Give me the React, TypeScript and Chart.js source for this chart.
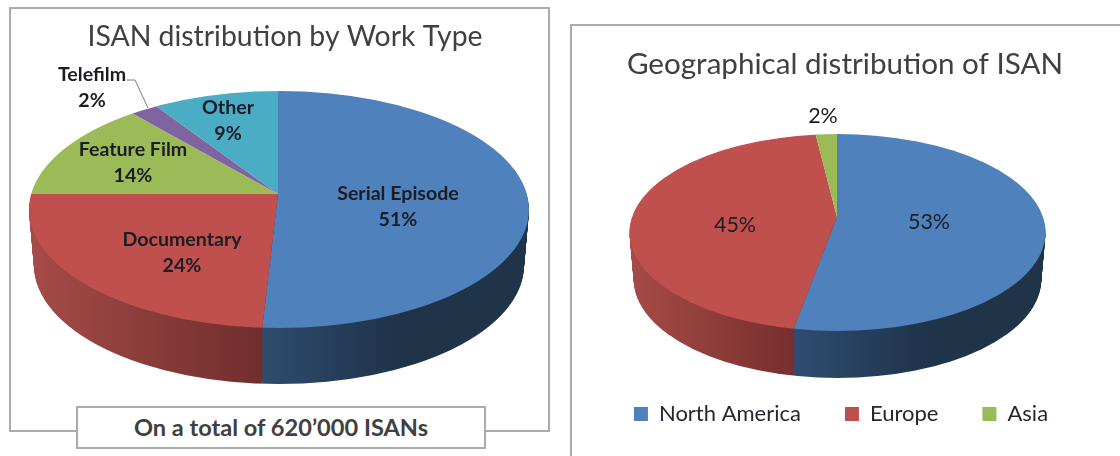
import React, { useEffect, useRef } from "react";
import { Chart, registerables } from "chart.js";

Chart.register(...registerables);

const FONT = "Lato, 'Open Sans', sans-serif";

const workTypes = ["Serial Episode", "Documentary", "Feature Film", "Telefilm", "Other"];
const workShares = [51, 24, 14, 2, 9];
const workColors = ["#4f81bd", "#c0504d", "#9bbb59", "#8064a2", "#4bacc6"];

const regions = ["North America", "Europe", "Asia"];
const regionShares = [53, 45, 2];
const regionColors = ["#4f81bd", "#c0504d", "#9bbb59"];

const leftTitle = "ISAN distribution by Work Type";
const rightTitle = "Geographical distribution of ISAN";
const totalNote = "On a total of 620\u2019000 ISANs";

type Geo = {
  apexX: number; apexY: number;
  cx: number; cy: number; rx: number; ry: number;
  rxUp: number; rxDown: number; ryUp: number; ryDown: number;
  depth: number; shrink: number;
  side: { [k: number]: [number, number, string, string] };
  labels: { [k: number]: [number, number] };
  labelFont: string; lineGap: number; withName: boolean;
  leader?: number[][];
  legendShift?: number;
};

function pie3d(geo: Geo) {
  return {
    id: "pie3d",
    afterLayout(chart: any) {
      if (geo.legendShift && chart.legend) {
        chart.legend.left += geo.legendShift;
        chart.legend.right += geo.legendShift;
      }
    },
    beforeDatasetsDraw(chart: any) {
      const ctx: CanvasRenderingContext2D = chart.ctx;
      const arcs = chart.getDatasetMeta(0).data;
      const first = arcs[0];
      const R = first.outerRadius;
      const over = 1.6;

      const half = (lower: boolean, off: number, side: boolean) => {
        const sx = (over * (lower ? geo.rxDown : geo.rxUp)) / R;
        ctx.save();
        ctx.beginPath();
        ctx.ellipse(geo.cx, geo.cy + off, geo.rx - geo.shrink * off, geo.ry, 0, 0, Math.PI * 2);
        ctx.clip();
        ctx.beginPath();
        if (lower) ctx.rect(0, geo.apexY + off, chart.width, chart.height);
        else ctx.rect(0, 0, chart.width, geo.apexY + off + 0.6);
        ctx.clip();
        ctx.translate(geo.apexX, geo.apexY + off);
        ctx.scale(sx, (over * (lower ? geo.ryDown : geo.ryUp)) / R);
        ctx.translate(-first.x, -first.y);
        arcs.forEach((arc: any, i: number) => {
          const saved = arc.options;
          if (side) {
            const s = geo.side[i];
            if (!s) return;
            const g = ctx.createLinearGradient(
              first.x + (s[0] - geo.apexX) / sx, 0,
              first.x + (s[1] - geo.apexX) / sx, 0
            );
            g.addColorStop(0, s[2]);
            g.addColorStop(1, s[3]);
            arc.options = Object.create(saved, { backgroundColor: { value: g } });
          }
          arc.draw(ctx);
          arc.options = saved;
        });
        ctx.restore();
      };

      for (let d = geo.depth; d >= 1; d--) half(true, d, true);
      half(false, 0, false);
      half(true, 0, false);

      const names = chart.data.labels;
      const vals = chart.data.datasets[0].data;
      ctx.save();
      ctx.fillStyle = "#1c1c24";
      ctx.font = geo.labelFont;
      ctx.textAlign = "center";
      ctx.textBaseline = "middle";
      vals.forEach((v: number, i: number) => {
        const p = geo.labels[i];
        if (geo.withName) {
          ctx.fillText(names[i], p[0], p[1]);
          ctx.fillText(v + "%", p[0], p[1] + geo.lineGap);
        } else {
          ctx.fillText(v + "%", p[0], p[1]);
        }
      });
      if (geo.leader) {
        ctx.strokeStyle = "#7f7f7f";
        ctx.lineWidth = 1;
        ctx.beginPath();
        geo.leader.forEach((q, i) => (i ? ctx.lineTo(q[0], q[1]) : ctx.moveTo(q[0], q[1])));
        ctx.stroke();
      }
      ctx.restore();
      return false;
    },
  };
}

const leftGeo: Geo = {
  apexX: 278, apexY: 194, cx: 279, cy: 209.5, rx: 250, ry: 118.5,
  rxUp: 225, rxDown: 250, ryUp: 103, ryDown: 134, depth: 56, shrink: 0.09,
  side: {
    0: [262, 400, "#2f4b6e", "#1f3349"],
    1: [30, 262, "#a64b48", "#6f2e2c"],
  },
  labels: { 0: [398, 194], 1: [182, 240], 2: [133, 150], 3: [92, 75], 4: [228, 108] },
  labelFont: `bold 19.6px ${FONT}`, lineGap: 25.5, withName: true,
  leader: [[127, 80], [135, 80], [148, 108]],
};

const rightGeo: Geo = {
  apexX: 267, apexY: 217, cx: 267.5, cy: 232.5, rx: 208, ry: 98.5,
  rxUp: 170, rxDown: 230, ryUp: 83, ryDown: 113, depth: 47, shrink: 0.09,
  side: {
    0: [224, 360, "#2f4c70", "#1f3349"],
    1: [60, 224, "#a64b48", "#772f2d"],
  },
  labels: { 0: [359, 222], 1: [165, 225], 2: [253, 116] },
  labelFont: `21.5px ${FONT}`, lineGap: 0, withName: false,
  legendShift: -4,
};

function makeChart(
  el: HTMLCanvasElement, labels: string[], data: number[], colors: string[],
  title: string, titleSize: number, titleTop: number, geo: Geo, legend: boolean
) {
  return new Chart(el, {
    type: "pie",
    data: { labels, datasets: [{ data, backgroundColor: colors, borderWidth: 0 }] },
    options: {
      animation: false,
      responsive: false,
      layout: { padding: { bottom: legend ? 21 : 0 } },
      plugins: {
        title: {
          display: true, text: title, color: "#404040",
          font: { family: FONT, size: titleSize, weight: "normal" },
          padding: { top: titleTop, bottom: 0 },
        },
        legend: {
          display: legend, position: "bottom",
          labels: {
            boxWidth: 14, boxHeight: 14, padding: 44, color: "#262633",
            font: { family: FONT, size: 22 },
          },
        },
        tooltip: { enabled: false },
      },
    },
    plugins: [pie3d(geo)],
  } as any);
}

const line = "2px solid #ababab";

export default function App() {
  const a = useRef<HTMLCanvasElement>(null);
  const b = useRef<HTMLCanvasElement>(null);
  useEffect(() => {
    const c1 = makeChart(a.current!, workTypes, workShares, workColors, leftTitle, 28.4, 20, leftGeo, false);
    const c2 = makeChart(b.current!, regions, regionShares, regionColors, rightTitle, 29.6, 47, rightGeo, true);
    return () => { c1.destroy(); c2.destroy(); };
  }, []);
  return (
    <div style={{ position: "fixed", inset: 0, background: "#fff", overflow: "hidden", filter: "blur(0.5px)" }}>
      <div style={{ position: "absolute", left: 9, top: 7, width: 537, height: 421, border: line }} />
      <div style={{ position: "absolute", left: 570, top: 24, width: 600, height: 500, border: line }} />
      <canvas ref={a} width={570} height={456} style={{ position: "absolute", left: 0, top: 0, width: 570, height: 456 }} />
      <canvas ref={b} width={550} height={456} style={{ position: "absolute", left: 570, top: 0, width: 550, height: 456 }} />
      <div style={{
        position: "absolute", left: 76, top: 406, width: 406, height: 39, border: line, background: "#fff",
        color: "#404040", font: `bold 23.6px ${FONT}`, textAlign: "center", lineHeight: "39px",
      }}>{totalNote}</div>
    </div>
  );
}
